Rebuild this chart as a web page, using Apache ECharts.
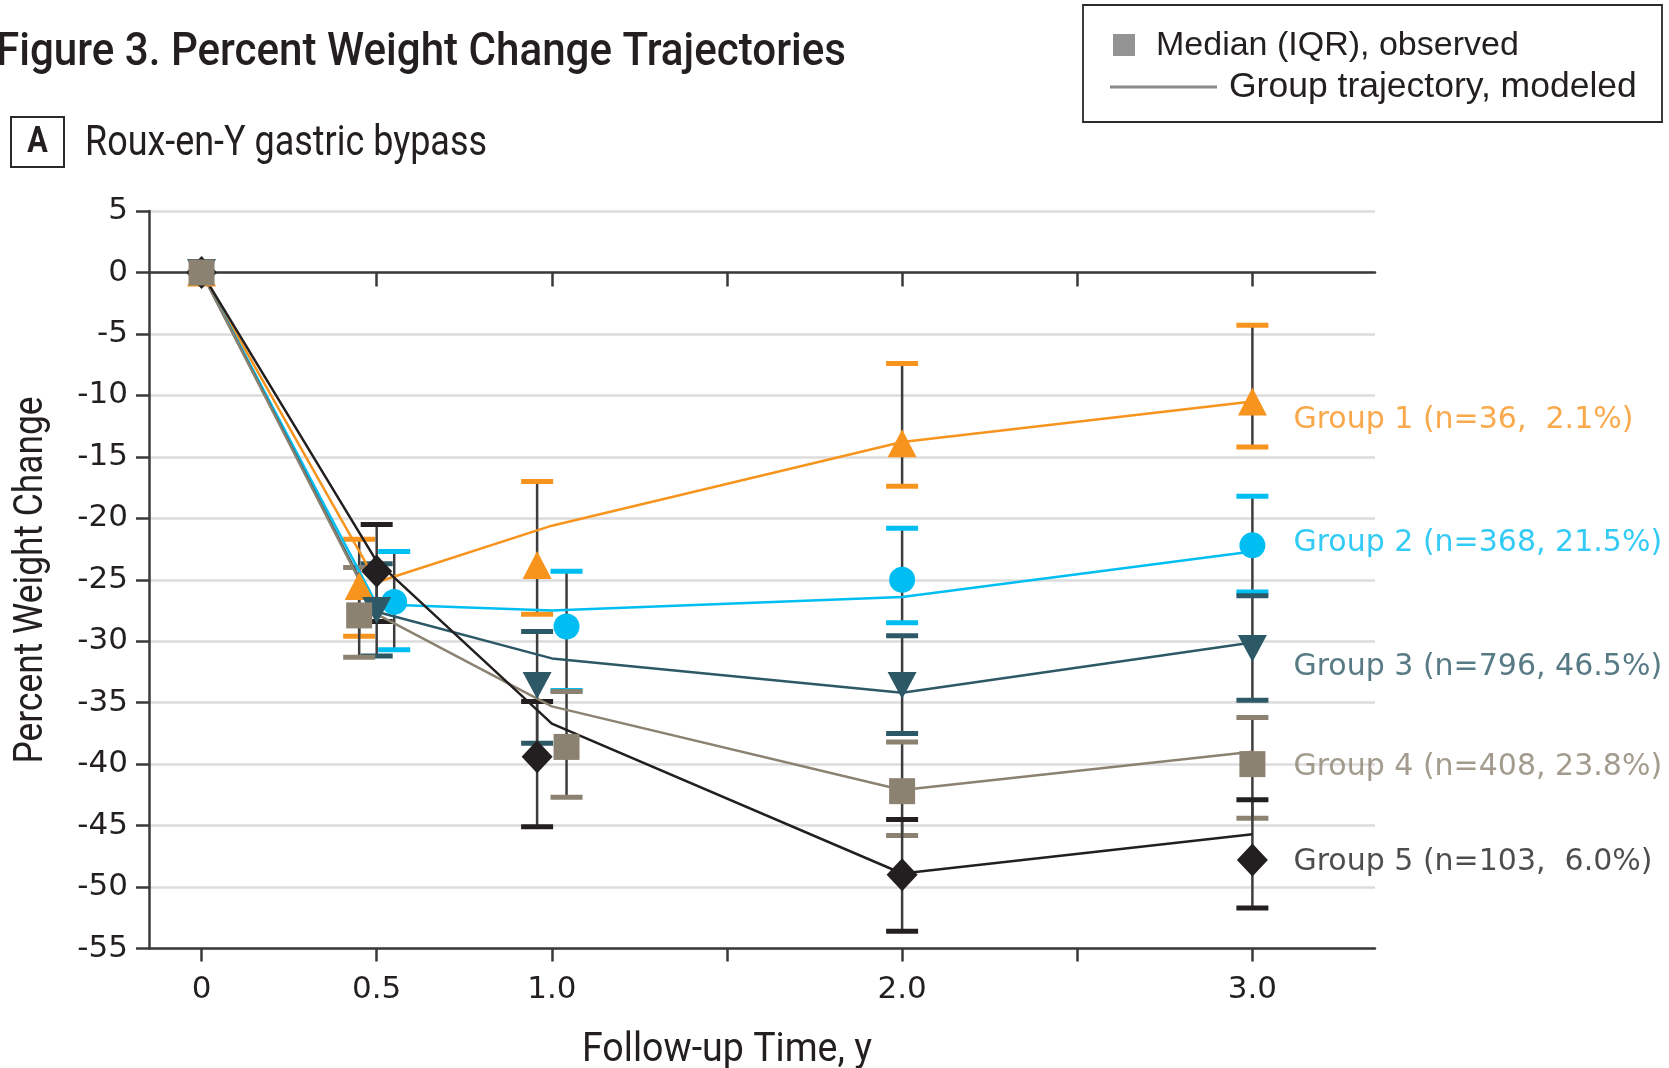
<!DOCTYPE html>
<html>
<head>
<meta charset="utf-8">
<title>Percent Weight Change Trajectories</title>
<script src="https://cdn.jsdelivr.net/npm/echarts@6/dist/echarts.min.js"></script>
<style>
  html, body { margin: 0; padding: 0; background: #ffffff; }
  #chart { width: 1669px; height: 1068px; }
</style>
</head>
<body>
<div id="chart"></div>
<script>
// ---- Data --------------------------------------------------------------
const followUpYears = [0, 0.5, 1, 2, 3];
const xTickValues = [0, 0.5, 1, 2, 3];
const xTickLabels = ['0', '0.5', '1.0', '2.0', '3.0'];
const xMinorTicks = [0, 0.5, 1, 1.5, 2, 2.5, 3];

const groupLabels = [
  'Group 1 (n=36,  2.1%)',
  'Group 2 (n=368, 21.5%)',
  'Group 3 (n=796, 46.5%)',
  'Group 4 (n=408, 23.8%)',
  'Group 5 (n=103,  6.0%)'
];

// Modeled group trajectories
const modeled1 = [0, -25.2, -20.6, -13.8, -10.5];
const modeled2 = [0, -27.0, -27.5, -26.4, -22.7];
const modeled3 = [0, -27.6, -31.4, -34.2, -30.1];
const modeled4 = [0, -27.8, -35.3, -42.1, -39.0];
const modeled5 = [0, -23.5, -36.7, -48.9, -45.7];

// Observed medians
const median1 = [0, -25.5, -23.8, -13.9, -10.5];
const median2 = [0, -26.8, -28.8, -25.0, -22.2];
const median3 = [0, -27.5, -33.6, -33.6, -30.6];
const median4 = [0, -27.9, -38.6, -42.2, -40.0];
const median5 = [0, -24.3, -39.4, -49.0, -47.8];

// Interquartile ranges (lower / upper quartile)
const q1Group1 = [0, -29.6, -27.8, -17.4, -14.2];
const q3Group1 = [0, -21.7, -17.0, -7.4, -4.3];
const q1Group2 = [0, -30.7, -34.0, -28.5, -26.0];
const q3Group2 = [0, -22.7, -24.3, -20.8, -18.2];
const q1Group3 = [0, -31.2, -38.3, -37.5, -34.8];
const q3Group3 = [0, -23.7, -29.2, -29.55, -26.3];
const q1Group4 = [0, -31.3, -42.7, -45.8, -44.4];
const q3Group4 = [0, -24.0, -34.1, -38.2, -36.2];
const q1Group5 = [0, -28.4, -45.1, -53.6, -51.7];
const q3Group5 = [0, -20.5, -34.9, -44.5, -42.9];

// ---- Styling -----------------------------------------------------------
const groupColors = ['#F7941E', '#00BEF2', '#2D5967', '#8C8271', '#231F20'];
const groupSymbols = ['triangle', 'circle', 'triangle', 'rect', 'diamond'];
const symbolRotations = [0, 0, 180, 0, 0];
const symbolSizes = [[29, 28], 26, [29, 27], 26, [31, 33]];
// horizontal dodge (in years) so overlapping markers stay readable
const dodge = [
  [0, -0.05, -0.042, 0, 0],
  [0, 0.05, 0.042, 0, 0],
  [0, 0, -0.042, 0, 0],
  [0, -0.05, 0.042, 0, 0],
  [0, 0, -0.042, 0, 0]
];
// vertical nudge (px) for the end-of-line group labels
const labelNudge = [19, -2, 19, 3, 2];

const modeled = [modeled1, modeled2, modeled3, modeled4, modeled5];
const medians = [median1, median2, median3, median4, median5];
const lowerQ = [q1Group1, q1Group2, q1Group3, q1Group4, q1Group5];
const upperQ = [q3Group1, q3Group2, q3Group3, q3Group4, q3Group5];

const axisColor = '#3a3a3a';
const textColor = '#231F20';
const narrowFont = 'Roboto, "Liberation Sans", sans-serif';
const numFont = '"DejaVu Sans", sans-serif';
const CAP_W = 32;

// horizontal squeeze so a regular-width face reads as a condensed one
const measureCtx = document.createElement('canvas').getContext('2d');
function squeeze(text, font, width) {
  measureCtx.font = font;
  return width / measureCtx.measureText(text).width;
}

function errorBarRenderer(color) {
  return function (params, api) {
    const x = api.value(0);
    const lo = api.value(1);
    const hi = api.value(2);
    if (lo === hi) return null;
    const pLo = api.coord([x, lo]);
    const pHi = api.coord([x, hi]);
    const hw = CAP_W / 2;
    return {
      type: 'group',
      children: [
        { type: 'line', shape: { x1: pLo[0], y1: pLo[1], x2: pHi[0], y2: pHi[1] },
          style: { stroke: '#3d3d3d', lineWidth: 2.5 } },
        { type: 'line', shape: { x1: pHi[0] - hw, y1: pHi[1], x2: pHi[0] + hw, y2: pHi[1] },
          style: { stroke: color, lineWidth: 5 } },
        { type: 'line', shape: { x1: pLo[0] - hw, y1: pLo[1], x2: pLo[0] + hw, y2: pLo[1] },
          style: { stroke: color, lineWidth: 5 } }
      ]
    };
  };
}

const series = [];
for (let g = 0; g < 5; g++) {
  series.push({
    type: 'custom',
    name: 'iqr' + (g + 1),
    xAxisIndex: 0,
    yAxisIndex: 0,
    z: 2,
    silent: true,
    renderItem: errorBarRenderer(groupColors[g]),
    encode: { x: 0, y: [1, 2] },
    data: followUpYears.map((t, i) => [t + dodge[g][i], lowerQ[g][i], upperQ[g][i]])
  });
}
for (let g = 0; g < 5; g++) {
  series.push({
    type: 'line',
    name: 'model' + (g + 1),
    z: 3,
    silent: true,
    showSymbol: false,
    lineStyle: { color: groupColors[g], width: 2.5 },
    data: followUpYears.map((t, i) => [t, modeled[g][i]])
  });
}
const markerOrder = [0, 1, 2, 4, 3];
markerOrder.forEach((g, k) => {
  series.push({
    type: 'scatter',
    name: 'median' + (g + 1),
    z: 4 + k,
    silent: true,
    symbol: groupSymbols[g],
    symbolRotate: symbolRotations[g],
    symbolSize: symbolSizes[g],
    itemStyle: { color: groupColors[g], opacity: 1 },
    data: followUpYears.map((t, i) => [t + dodge[g][i], medians[g][i]])
  });
});
for (let g = 0; g < 5; g++) {
  const last = followUpYears.length - 1;
  series.push({
    type: 'scatter',
    name: 'label' + (g + 1),
    z: 10,
    silent: true,
    symbolSize: 0,
    data: [[followUpYears[last], medians[g][last]]],
    label: {
      show: true,
      position: 'right',
      distance: 41,
      offset: [0, labelNudge[g]],
      formatter: groupLabels[g],
      color: groupColors[g],
      fontFamily: numFont,
      fontSize: 30
    }
  });
}

const titleText = 'Figure 3. Percent Weight Change Trajectories';
const titleFont = '500 46px ' + narrowFont;
const panelText = 'Roux-en-Y gastric bypass';
const panelFont = '42px ' + narrowFont;
const yNameText = 'Percent Weight Change';
const yNameFont = '40px ' + narrowFont;
const xNameText = 'Follow-up Time, y';
const xNameFont = '40px ' + narrowFont;

const chart = echarts.init(document.getElementById('chart'), null, { renderer: 'canvas' });
chart.setOption({
  animation: false,
  backgroundColor: '#ffffff',
  grid: { left: 149, right: 294, top: 211, bottom: 119.5, containLabel: false, outerBoundsMode: 'none' },
  xAxis: [
    {
      type: 'value',
      position: 'bottom',
      min: -0.15,
      max: 3.35,
      axisLine: { show: true, onZero: false, lineStyle: { color: axisColor, width: 2.5 } },
      axisTick: { show: true, customValues: xMinorTicks, length: 13, lineStyle: { color: axisColor, width: 2.5 } },
      axisLabel: {
        show: true,
        customValues: xTickValues,
        margin: 26,
        color: textColor,
        fontFamily: numFont,
        fontSize: 31,
        formatter: v => xTickLabels[xTickValues.indexOf(v)]
      },
      splitLine: { show: false }
    },
    {
      type: 'value',
      position: 'top',
      min: -0.15,
      max: 3.35,
      axisLine: { show: true, onZero: true, onZeroAxisIndex: 0, lineStyle: { color: axisColor, width: 2.5 } },
      axisTick: { show: true, inside: true, customValues: xMinorTicks, length: 14, lineStyle: { color: axisColor, width: 2.5 } },
      axisLabel: { show: false },
      splitLine: { show: false }
    }
  ],
  yAxis: {
    type: 'value',
    min: -55,
    max: 5,
    interval: 5,
    axisLine: { show: true, onZero: false, lineStyle: { color: axisColor, width: 2.5 } },
    axisTick: { show: true, length: 13, lineStyle: { color: axisColor, width: 2.5 } },
    axisLabel: { margin: 21, color: textColor, fontFamily: numFont, fontSize: 31 },
    splitLine: { show: true, lineStyle: { color: '#dcdcde', width: 2.5 } }
  },
  graphic: [
    {
      type: 'text', x: -4, y: 53, scaleX: squeeze(titleText, titleFont, 850),
      style: { text: titleText, fill: textColor, verticalAlign: 'middle', font: titleFont }
    },
    {
      type: 'rect', shape: { x: 11, y: 117, width: 53, height: 50 },
      style: { fill: '#ffffff', stroke: '#2a2a2a', lineWidth: 2 }
    },
    {
      type: 'text', x: 37.5, y: 143, scaleX: 0.85,
      style: { text: 'A', fill: textColor, align: 'center', verticalAlign: 'middle',
               font: 'bold 36px ' + narrowFont }
    },
    {
      type: 'text', x: 85, y: 144, scaleX: squeeze(panelText, panelFont, 402),
      style: { text: panelText, fill: textColor, verticalAlign: 'middle', font: panelFont }
    },
    {
      type: 'text', x: 32, y: 580, rotation: Math.PI / 2, scaleX: squeeze(yNameText, yNameFont, 367),
      style: { text: yNameText, fill: textColor, align: 'center', verticalAlign: 'middle', font: yNameFont }
    },
    {
      type: 'text', x: 727, y: 1051, scaleX: squeeze(xNameText, xNameFont, 290),
      style: { text: xNameText, fill: textColor, align: 'center', verticalAlign: 'middle', font: xNameFont }
    },
    {
      type: 'rect', shape: { x: 1083, y: 5, width: 579, height: 117 },
      style: { fill: '#ffffff', stroke: '#2a2a2a', lineWidth: 1.8 }
    },
    {
      type: 'rect', shape: { x: 1113, y: 34, width: 22, height: 22 },
      style: { fill: '#939393' }
    },
    {
      type: 'text', x: 1156, y: 46,
      style: { text: 'Median (IQR), observed', fill: textColor, verticalAlign: 'middle',
               font: '34px "Liberation Sans", Arial, sans-serif' }
    },
    {
      type: 'line', shape: { x1: 1110, y1: 87, x2: 1217, y2: 87 },
      style: { stroke: '#8a8a8a', lineWidth: 3 }
    },
    {
      type: 'text', x: 1229, y: 87,
      style: { text: 'Group trajectory, modeled', fill: textColor, verticalAlign: 'middle',
               font: '35.5px "Liberation Sans", Arial, sans-serif' }
    }
  ],
  series: series
});
</script>
</body>
</html>
